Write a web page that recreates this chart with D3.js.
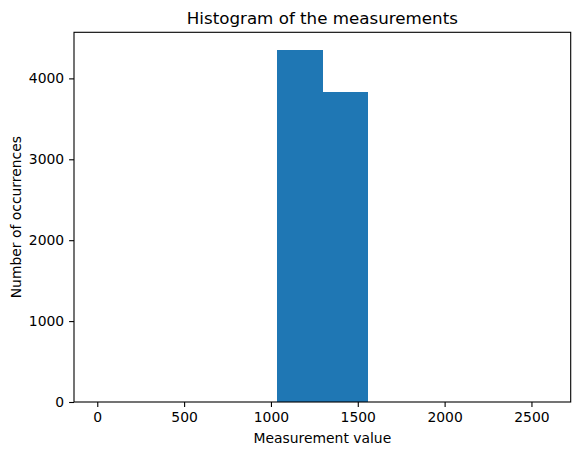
<!DOCTYPE html>
<html>
<head>
<meta charset="utf-8">
<script src="https://cdn.jsdelivr.net/npm/d3@7"></script>
<style>
  body { margin: 0; background: #fff; }
  text { font-family: "DejaVu Sans", sans-serif; fill: #000; }
</style>
</head>
<body>
<svg id="chart" width="580" height="455"></svg>
<script>
// Histogram bins (10 equal bins)
const binEdges = [-4, 256, 516, 776, 1036, 1296, 1556, 1816, 2076, 2336, 2596];
const binCounts = [0, 0, 0, 0, 4352, 3832, 0, 0, 0, 0];
const xTicks = [0, 500, 1000, 1500, 2000, 2500];
const yTicks = [0, 1000, 2000, 3000, 4000];
const titleText = "Histogram of the measurements";
const xLabel = "Measurement value";
const yLabel = "Number of occurrences";

const svg = d3.select("#chart");
const margin = {left: 74, right: 9.3, top: 32.3, bottom: 53};
const W = 580, H = 455;
const iw = W - margin.left - margin.right;
const ih = H - margin.top - margin.bottom;

const xmin = binEdges[0], xmax = binEdges[binEdges.length - 1];
const span = xmax - xmin;
const x = d3.scaleLinear().domain([xmin - 0.05 * span, xmax + 0.05 * span]).range([0, iw]);
const ymaxv = d3.max(binCounts) * 1.05;
const y = d3.scaleLinear().domain([0, ymaxv]).range([ih, 0]);

const g = svg.append("g").attr("transform", `translate(${margin.left},${margin.top})`);

const bins = binCounts.map((c, i) => ({x0: binEdges[i], x1: binEdges[i + 1], c}));
g.selectAll("rect.bar").data(bins.filter(d => d.c > 0)).join("rect")
  .attr("class", "bar")
  .attr("x", d => x(d.x0))
  .attr("width", d => x(d.x1) - x(d.x0) + 0.5)
  .attr("y", d => y(d.c))
  .attr("height", d => y(0) - y(d.c))
  .attr("fill", "#1f77b4")
  .attr("shape-rendering", "crispEdges");

const fs = 13.9;
const xAxis = g.append("g").attr("transform", `translate(0,${ih})`)
  .call(d3.axisBottom(x).tickValues(xTicks).tickFormat(d3.format("d")).tickSize(4.9).tickPadding(4.9));
const yAxis = g.append("g")
  .call(d3.axisLeft(y).tickValues(yTicks).tickFormat(d3.format("d")).tickSize(4.9).tickPadding(4.9));
[xAxis, yAxis].forEach(a => {
  a.select(".domain").remove();
  a.selectAll(".tick line").attr("stroke", "#000").attr("stroke-width", 1.1);
  a.selectAll(".tick text").style("font-size", fs + "px").attr("fill", "#000");
});

// frame
g.append("rect").attr("x", 0).attr("y", 0).attr("width", iw).attr("height", ih)
  .attr("fill", "none").attr("stroke", "#000").attr("stroke-width", 1.1);

svg.append("text").attr("x", margin.left + iw / 2).attr("y", margin.top - 8)
  .attr("text-anchor", "middle").style("font-size", "16.7px").text(titleText);

svg.append("text").attr("x", margin.left + iw / 2).attr("y", H - 12)
  .attr("text-anchor", "middle").style("font-size", fs + "px").text(xLabel);

svg.append("text")
  .attr("transform", `translate(21,${margin.top + ih / 2}) rotate(-90)`)
  .attr("text-anchor", "middle").style("font-size", fs + "px").text(yLabel);
</script>
</body>
</html>
